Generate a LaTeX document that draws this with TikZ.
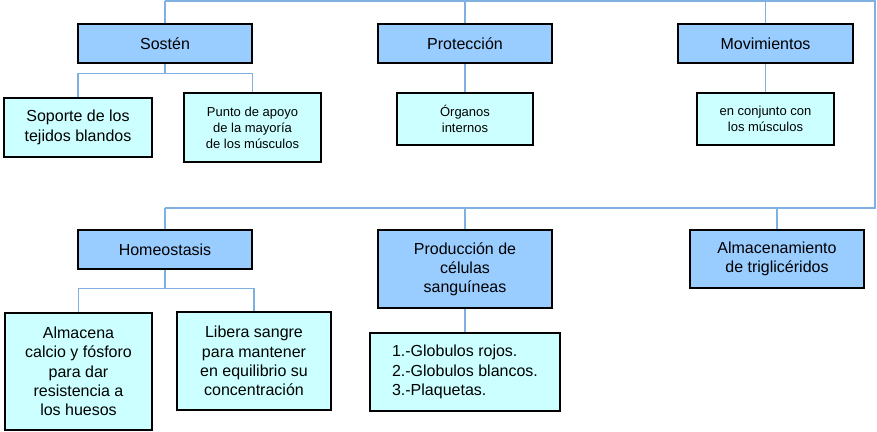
\documentclass[tikz,border=0pt]{standalone}
\usepackage{fontspec}
\setmainfont{Liberation Sans}
\definecolor{headblue}{HTML}{99CCFF}
\definecolor{leafcyan}{HTML}{CCFFFF}
\definecolor{linkblue}{HTML}{7EB0E2}
\begin{document}
\begin{tikzpicture}[x=1pt, y=-1pt,
  head/.style={draw=black, line width=1.3pt, fill=headblue, align=center, inner sep=0pt, font=\fontsize{16}{19}\selectfont},
  leaf/.style={draw=black, line width=1.3pt, fill=leafcyan, align=center, inner sep=0pt, font=\fontsize{16}{19.3}\selectfont},
  small/.style={font=\fontsize{13}{16}\selectfont},
  link/.style={draw=linkblue, line width=1.5pt}]
\useasboundingbox (0,0) rectangle (877,431);

\coordinate (topL) at (165,1);
\coordinate (topR) at (875,1);
\coordinate (botR) at (875,208);
\coordinate (botL) at (165,208);
\draw[link] (topL) -- (topR) -- (botR) -- (botL);

\node[head, minimum width=174, minimum height=39] (sosten) at (165,43.5) {Sostén};
\node[head, minimum width=174, minimum height=39] (proteccion) at (465,43.5) {Protección};
\node[head, minimum width=175, minimum height=39] (movimientos) at (765.5,43.5) {Movimientos};

\node[leaf, minimum width=148, minimum height=59] (soporte) at (78,127.5) {Soporte de los\\tejidos blandos};
\node[leaf, small, minimum width=137, minimum height=69] (apoyo) at (252.5,127.5) {Punto de apoyo\\de la mayoría\\de los músculos};
\node[leaf, small, minimum width=136, minimum height=52] (organos) at (465,119) {Órganos\\internos};
\node[leaf, small, minimum width=137, minimum height=52] (conjunto) at (765.5,119) {en conjunto con\\los músculos};

\node[head, minimum width=174, minimum height=39] (homeostasis) at (165,249.5) {Homeostasis};
\node[head, minimum width=174, minimum height=78] (produccion) at (465,269) {Producción de\\células\\sanguíneas};
\node[head, minimum width=174, minimum height=58] (almacenamiento) at (777,259) {Almacenamiento\\de triglicéridos};

\node[leaf, minimum width=147, minimum height=117] (calcio) at (78.5,371.5) {Almacena\\calcio y fósforo\\para dar\\resistencia a\\los huesos};
\node[leaf, minimum width=154, minimum height=98] (libera) at (254,361) {Libera sangre\\para mantener\\en equilibrio su\\concentración};
\node[leaf, align=left, minimum width=190, minimum height=78] (globulos) at (465,372) {1.-Globulos rojos.\\2.-Globulos blancos.\\3.-Plaquetas.};

% ramas
\draw[link] (sosten.north) -- (sosten.north |- topL);
\draw[link] (proteccion.north) -- (proteccion.north |- topL);
\draw[link] (movimientos.north) -- (movimientos.north |- topL);
\draw[link] (homeostasis.north) -- (homeostasis.north |- botL);
\draw[link] (produccion.north) -- (produccion.north |- botL);
\draw[link] (almacenamiento.north) -- (almacenamiento.north |- botL);

\draw[link] (sosten.south) -- ++(0,10) -| (soporte.north);
\draw[link] (sosten.south) -- ++(0,10) -| (apoyo.north);
\draw[link] (proteccion.south) -- (organos.north);
\draw[link] (movimientos.south) -- (conjunto.north);
\draw[link] (homeostasis.south) -- ++(0,19) -| (calcio.north);
\draw[link] (homeostasis.south) -- ++(0,19) -| (libera.north);
\draw[link] (produccion.south) -- (globulos.north);
\end{tikzpicture}
\end{document}
